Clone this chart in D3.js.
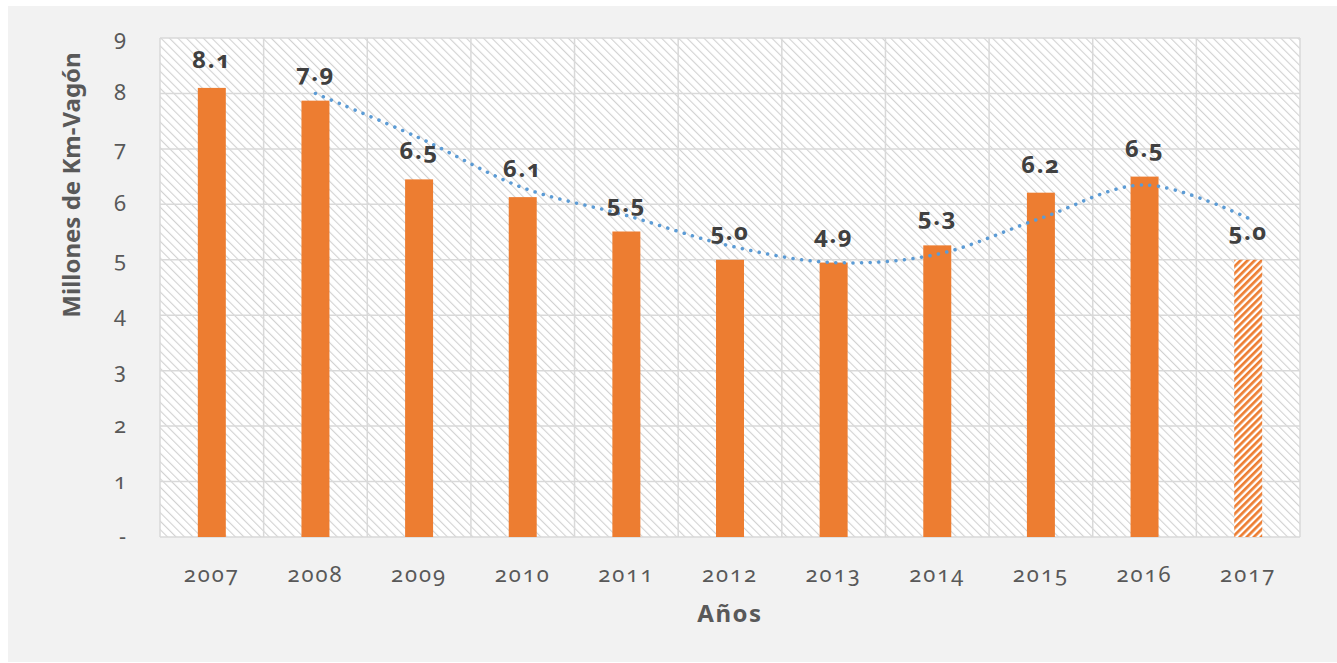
<!DOCTYPE html>
<html lang="es">
<head>
    <meta charset="UTF-8">
    <title>Millones de Km-Vagón</title>
    <script src="https://d3js.org/d3.v7.min.js"></script>
    <style>
        body { margin: 0; background: #fff; }
        svg { display: block; font-family: "Noto Sans", "Open Sans", sans-serif; font-variant-numeric: oldstyle-nums; }
        .tick-label { fill: #595959; font-size: 22px; letter-spacing: 2px; }
        .bar-label { fill: #404040; font-size: 24px; font-weight: bold; letter-spacing: 1.5px; }
        .axis-title { fill: #595959; font-size: 24px; font-weight: bold; }
    </style>
</head>
<body>
    <svg width="1337" height="663"></svg>
    <script>
        // datos
        const years = ["2007", "2008", "2009", "2010", "2011", "2012", "2013", "2014", "2015", "2016", "2017"];
        const values = [8.1, 7.87, 6.45, 6.13, 5.51, 5.0, 4.95, 5.26, 6.21, 6.5, 5.0];
        const labels = ["8.1", "7.9", "6.5", "6.1", "5.5", "5.0", "4.9", "5.3", "6.2", "6.5", "5.0"];
        // linea de tendencia (media movil de 2 periodos), desde 2008
        const trendYears = ["2008", "2009", "2010", "2011", "2012", "2013", "2014", "2015", "2016", "2017"];
        const trendValues = [8.0, 7.2, 6.3, 5.8, 5.25, 4.95, 5.1, 5.75, 6.35, 5.75];
        const yTicks = [0, 1, 2, 3, 4, 5, 6, 7, 8, 9];
        const projected = "2017";

        const svg = d3.select("svg");
        const margin = { top: 38, right: 37, bottom: 126, left: 160 };
        const width = 1337 - margin.left - margin.right,
            height = 663 - margin.top - margin.bottom;

        // fondo gris
        svg.append("rect")
            .attr("x", 8).attr("y", 6)
            .attr("width", 1329).attr("height", 656)
            .attr("fill", "#f2f2f2");

        const defs = svg.append("defs");
        const bg = defs.append("pattern")
            .attr("id", "bgHatch")
            .attr("patternUnits", "userSpaceOnUse")
            .attr("width", 6).attr("height", 6)
            .attr("patternTransform", "rotate(-45)");
        bg.append("rect").attr("width", 6).attr("height", 6).attr("fill", "#ffffff");
        bg.append("line")
            .attr("x1", 0).attr("y1", 0).attr("x2", 0).attr("y2", 6)
            .attr("stroke", "#d2d2d2").attr("stroke-width", 2.2);

        const barHatch = defs.append("pattern")
            .attr("id", "barHatch")
            .attr("patternUnits", "userSpaceOnUse")
            .attr("width", 5).attr("height", 5)
            .attr("patternTransform", "rotate(45)");
        barHatch.append("rect").attr("width", 5).attr("height", 5).attr("fill", "#ffffff");
        barHatch.append("line")
            .attr("x1", 0).attr("y1", 0).attr("x2", 0).attr("y2", 5)
            .attr("stroke", "#ed7d31").attr("stroke-width", 5.4);

        const g = svg.append("g")
            .attr("transform", `translate(${margin.left},${margin.top})`);

        const x = d3.scaleBand().domain(years).range([0, width]).padding(0);
        const y = d3.scaleLinear().domain([0, 9]).range([height, 0]);
        const barW = x.bandwidth() * 0.27;

        g.append("rect")
            .attr("width", width).attr("height", height)
            .attr("fill", "url(#bgHatch)");

        // cuadricula
        g.selectAll(".hgrid")
            .data(yTicks)
            .enter().append("line")
            .attr("class", "hgrid")
            .attr("x1", 0).attr("x2", width)
            .attr("y1", d => y(d)).attr("y2", d => y(d))
            .attr("stroke", "#d9d9d9").attr("stroke-width", 1.5);

        g.selectAll(".vgrid")
            .data(years.concat(["end"]))
            .enter().append("line")
            .attr("class", "vgrid")
            .attr("x1", (d, i) => i * x.step()).attr("x2", (d, i) => i * x.step())
            .attr("y1", 0).attr("y2", height)
            .attr("stroke", "#d9d9d9").attr("stroke-width", 1.5);

        // barras
        g.selectAll(".bar")
            .data(years)
            .enter().append("rect")
            .attr("class", "bar")
            .attr("x", d => x(d) + x.bandwidth() / 2 - barW / 2)
            .attr("y", (d, i) => y(values[i]))
            .attr("width", barW)
            .attr("height", (d, i) => height - y(values[i]))
            .attr("fill", d => d === projected ? "url(#barHatch)" : "#ed7d31");

        // tendencia
        const line = d3.line()
            .x(d => x(d[0]) + x.bandwidth() / 2)
            .y(d => y(d[1]))
            .curve(d3.curveCatmullRom.alpha(0.5));

        g.append("path")
            .datum(trendYears.map((d, i) => [d, trendValues[i]]))
            .attr("d", line)
            .attr("fill", "none")
            .attr("stroke", "#5b9bd5")
            .attr("stroke-width", 3.5)
            .attr("stroke-linecap", "round")
            .attr("stroke-dasharray", "0.1 8.5");

        // etiquetas de datos
        g.selectAll(".bar-label")
            .data(years)
            .enter().append("text")
            .attr("class", "bar-label")
            .attr("x", d => x(d) + x.bandwidth() / 2)
            .attr("y", (d, i) => y(values[i]) - 20)
            .attr("text-anchor", "middle")
            .text((d, i) => labels[i]);

        // eje y
        g.selectAll(".ytick")
            .data(yTicks)
            .enter().append("text")
            .attr("class", "tick-label")
            .attr("x", -32)
            .attr("y", d => y(d) + 7)
            .attr("text-anchor", "end")
            .text(d => d === 0 ? "-" : d);

        // eje x
        g.selectAll(".xtick")
            .data(years)
            .enter().append("text")
            .attr("class", "tick-label")
            .attr("x", d => x(d) + x.bandwidth() / 2)
            .attr("y", height + 45)
            .attr("text-anchor", "middle")
            .text(d => d);

        svg.append("text")
            .attr("class", "axis-title")
            .attr("x", 730).attr("y", 622)
            .attr("text-anchor", "middle")
            .attr("letter-spacing", "1.5px")
            .text("Años");

        svg.append("text")
            .attr("class", "axis-title")
            .attr("transform", "translate(80,185) rotate(-90)")
            .attr("text-anchor", "middle")
            .text("Millones de Km-Vagón");
    </script>
</body>
</html>
